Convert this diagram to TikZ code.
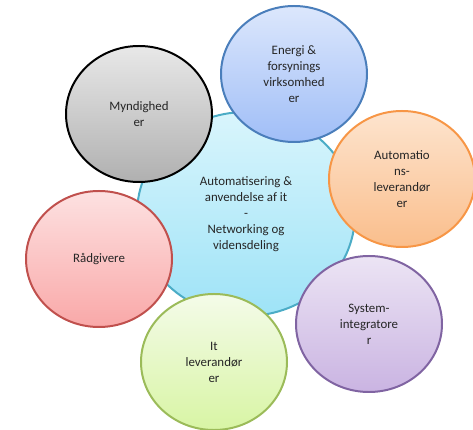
\documentclass[tikz,border=0pt]{standalone}
\usepackage{fontspec}
\setmainfont{Carlito}
\usetikzlibrary{shapes.geometric}
\definecolor{hubline}{HTML}{4BACC6}
\definecolor{energiline}{HTML}{4A7EBB}
\definecolor{autoline}{HTML}{F79646}
\definecolor{raadline}{HTML}{C0504D}
\definecolor{sysline}{HTML}{8064A2}
\definecolor{itline}{HTML}{9BBB59}
\begin{document}
\begin{tikzpicture}[x=0.03cm,y=-0.03cm]
	\tikzstyle{bubble}=[ellipse,line width=1.7pt,minimum width=4.38cm,minimum height=4.08cm,inner sep=0pt,align=center,text=black!85,font=\fontsize{11}{13.6}\selectfont,shading=axis,shading angle=0]
	\tikzstyle{hub}=[bubble,minimum width=6.54cm,minimum height=6.12cm,draw=hubline]
	\useasboundingbox (0,0) rectangle (473,430);
	\node[hub, top color={rgb,255:red,217;green,245;blue,252}, bottom color={rgb,255:red,158;green,227;blue,247}] (Hub) at (246,214) {Automatisering \&\\anvendelse af it\\-\\Networking og\\vidensdeling};

	% satellites
	\node[bubble, draw=energiline, top color={rgb,255:red,220;green,231;blue,252}, bottom color={rgb,255:red,160;green,190;blue,247}] (Energi) at (294,74) {Energi \&\\forsynings\\virksomhed\\er};
	\node[bubble, draw=black, top color={rgb,255:red,232;green,232;blue,232}, bottom color={rgb,255:red,176;green,176;blue,176}] (Myndig) at (139,114) {Myndighed\\er};
	\node[bubble, draw=autoline, top color={rgb,255:red,253;green,228;blue,206}, bottom color={rgb,255:red,250;green,190;blue,140}] (Auto) at (402,179) {Automatio\\ns-\\leverandør\\er};
	\node[bubble, draw=raadline, top color={rgb,255:red,253;green,225;blue,225}, bottom color={rgb,255:red,249;green,168;blue,168}] (Raad) at (99,259) {Rådgivere};
	\node[bubble, draw=sysline, top color={rgb,255:red,236;green,228;blue,244}, bottom color={rgb,255:red,202;green,180;blue,226}] (System) at (369,324) {System-\\integratore\\r};
	\node[bubble, draw=itline, top color={rgb,255:red,244;green,251;blue,233}, bottom color={rgb,255:red,216;green,245;blue,164}] (It) at (214,362) {It\\leverandør\\er};
\end{tikzpicture}
\end{document}
